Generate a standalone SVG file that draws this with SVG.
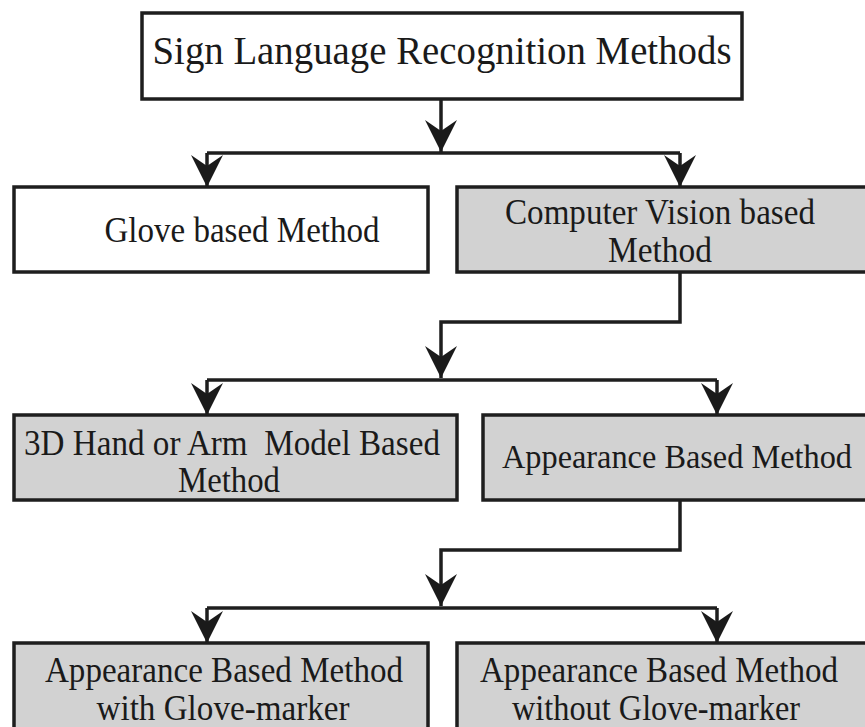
<svg xmlns="http://www.w3.org/2000/svg" width="865" height="727" viewBox="0 0 865 727">
<style>
.box{stroke:#1e1e1e;stroke-width:3.5}
.white{fill:#ffffff}
.gray{fill:#d2d2d2}
.t{font-family:"Liberation Serif","Times New Roman",serif;font-size:35px;fill:#1a1a1a;text-anchor:middle;white-space:pre}
.title{font-size:39px}
.c{fill:none;stroke:#1e1e1e;stroke-width:3.5}
</style>
<defs>
<marker id="ah" markerUnits="userSpaceOnUse" viewBox="-33 -17 34 34" markerWidth="34" markerHeight="34" refX="0" refY="0" orient="auto">
<path d="M0,0 L-32,-16 L-21,0 L-32,16 Z" fill="#1a1a1a"/>
</marker>
</defs>
<rect width="865" height="727" fill="#ffffff"/>
<g id="connectors">
<path class="c" d="M441,99 V152" marker-end="url(#ah)"/>
<path class="c" d="M207,153 H680"/>
<path class="c" d="M207,153 V187" marker-end="url(#ah)"/>
<path class="c" d="M680,153 V187" marker-end="url(#ah)"/>
<path class="c" d="M680,272 V322 H441 V378" marker-end="url(#ah)"/>
<path class="c" d="M207,380 H717"/>
<path class="c" d="M207,380 V415" marker-end="url(#ah)"/>
<path class="c" d="M717,380 V415" marker-end="url(#ah)"/>
<path class="c" d="M680,500 V550 H441 V606" marker-end="url(#ah)"/>
<path class="c" d="M207,608 H717"/>
<path class="c" d="M207,608 V643" marker-end="url(#ah)"/>
<path class="c" d="M717,608 V643" marker-end="url(#ah)"/>
</g>
<g id="root">
<rect class="box white" x="142" y="13" width="600" height="86"/>
<text class="t title" x="442" y="64" textLength="579" lengthAdjust="spacingAndGlyphs">Sign Language Recognition Methods</text>
</g>
<g id="glove">
<rect class="box white" x="14" y="187" width="414" height="85"/>
<text class="t" x="242" y="242" textLength="275" lengthAdjust="spacingAndGlyphs">Glove based Method</text>
</g>
<g id="vision">
<rect class="box gray" x="457" y="187" width="420" height="85"/>
<text class="t" x="660" y="224" textLength="310" lengthAdjust="spacingAndGlyphs">Computer Vision based</text>
<text class="t" x="660" y="262" textLength="104" lengthAdjust="spacingAndGlyphs">Method</text>
</g>
<g id="model3d">
<rect class="box gray" x="14" y="415" width="443" height="85"/>
<text class="t" x="232" y="455" textLength="416" lengthAdjust="spacingAndGlyphs">3D Hand or Arm  Model Based</text>
<text class="t" x="229" y="492" textLength="102" lengthAdjust="spacingAndGlyphs">Method</text>
</g>
<g id="appearance">
<rect class="box gray" x="483" y="415" width="394" height="85"/>
<text class="t" x="677" y="468" style="font-size:33px" textLength="350" lengthAdjust="spacingAndGlyphs">Appearance Based Method</text>
</g>
<g id="withglove">
<rect class="box gray" x="14" y="643" width="414" height="100"/>
<text class="t" x="224" y="682" textLength="358" lengthAdjust="spacingAndGlyphs">Appearance Based Method</text>
<text class="t" x="223" y="720" textLength="253" lengthAdjust="spacingAndGlyphs">with Glove-marker</text>
</g>
<g id="withoutglove">
<rect class="box gray" x="457" y="643" width="420" height="100"/>
<text class="t" x="659" y="682" textLength="358" lengthAdjust="spacingAndGlyphs">Appearance Based Method</text>
<text class="t" x="656" y="720" textLength="288" lengthAdjust="spacingAndGlyphs">without Glove-marker</text>
</g>
</svg>
